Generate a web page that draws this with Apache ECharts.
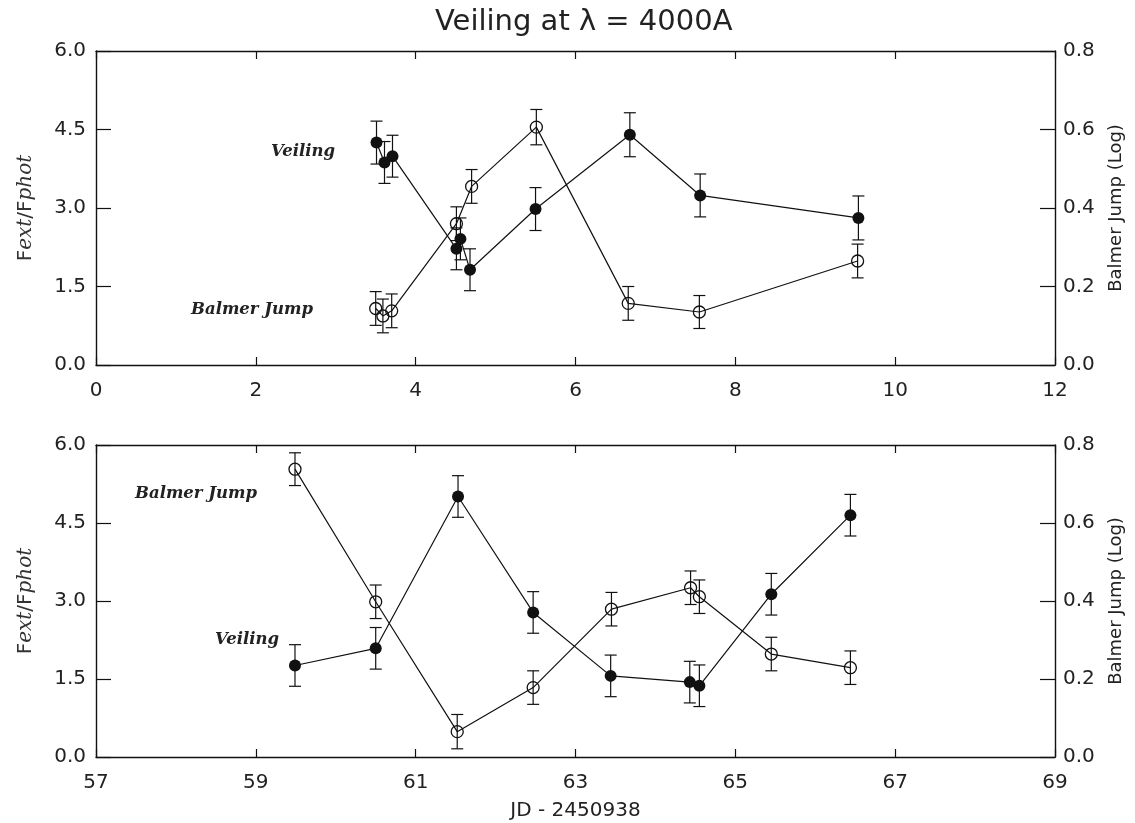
<!DOCTYPE html>
<html>
<head>
<meta charset="utf-8">
<script src="https://cdn.jsdelivr.net/npm/echarts@6/dist/echarts.min.js"></script>
<style>
  html, body { margin: 0; padding: 0; background: #fff; }
  #chart { width: 1135px; height: 823px; }
</style>
</head>
<body>
<div id="chart"></div>
<script>
// ---- Upper panel: JD - 2450938 (early run) ----
const topVeilJD  = [3.51, 3.61, 3.71, 4.51, 4.56, 4.68, 5.50, 6.68, 7.56, 9.54];
const topVeil    = [4.25, 3.87, 3.99, 2.22, 2.41, 1.82, 2.98, 4.40, 3.24, 2.81];
const topVeilErr = [0.41, 0.40, 0.40, 0.40, 0.40, 0.40, 0.41, 0.42, 0.41, 0.42];
const topBJJD    = [3.50, 3.59, 3.70, 4.51, 4.70, 5.51, 6.66, 7.55, 9.53];
const topBJ      = [0.144, 0.125, 0.138, 0.360, 0.455, 0.606, 0.157, 0.135, 0.265];
const topBJErr   = [0.043, 0.043, 0.043, 0.043, 0.043, 0.045, 0.043, 0.042, 0.043];

// ---- Lower panel: JD - 2450938 (later run) ----
const botVeilJD  = [59.49, 60.50, 61.53, 62.47, 63.44, 64.43, 64.55, 65.45, 66.44];
const botVeil    = [1.76, 2.09, 5.01, 2.78, 1.56, 1.44, 1.37, 3.13, 4.65];
const botVeilErr = [0.40, 0.40, 0.40, 0.40, 0.40, 0.40, 0.40, 0.40, 0.40];
const botBJJD    = [59.49, 60.50, 61.52, 62.47, 63.45, 64.44, 64.55, 65.45, 66.44];
const botBJ      = [0.738, 0.398, 0.065, 0.178, 0.379, 0.434, 0.411, 0.264, 0.229];
const botBJErr   = [0.042, 0.043, 0.044, 0.043, 0.043, 0.043, 0.043, 0.043, 0.043];

// Axis ranges and tick steps
const topXRange = [0, 12];
const botXRange = [57, 69];
const xStep = 2;
const fextRange = [0, 6];
const fextStep = 1.5;
const bjRange = [0, 0.8];
const bjStep = 0.2;

const titleText = 'Veiling at \u03bb = 4000A';
const xName = 'JD - 2450938';
const bjName = 'Balmer Jump (Log)';

const INK = '#111';
const SANS = 'DejaVu Sans';
const SERIF = 'DejaVu Serif';

function pairs(xs, ys) { return xs.map((x, i) => [x, ys[i]]); }
function bars(xs, ys, es) { return xs.map((x, i) => [x, ys[i] - es[i], ys[i] + es[i]]); }

// vertical error bar with end caps
function errRender(params, api) {
  const x = api.value(0);
  const lo = api.coord([x, api.value(1)]);
  const hi = api.coord([x, api.value(2)]);
  const cap = 6;
  const st = { stroke: INK, lineWidth: 1.2 };
  return {
    type: 'group',
    children: [
      { type: 'line', shape: { x1: lo[0], y1: lo[1], x2: hi[0], y2: hi[1] }, style: st },
      { type: 'line', shape: { x1: lo[0] - cap, y1: lo[1], x2: lo[0] + cap, y2: lo[1] }, style: st },
      { type: 'line', shape: { x1: hi[0] - cap, y1: hi[1], x2: hi[0] + cap, y2: hi[1] }, style: st }
    ]
  };
}

function xAxes(gi, range, withName) {
  const common = {
    type: 'value', gridIndex: gi, min: range[0], max: range[1], interval: xStep,
    axisLine: { show: true, onZero: false, lineStyle: { color: INK, width: 1.4 } },
    axisTick: { show: true, inside: true, length: 8, lineStyle: { color: INK, width: 1.2 } },
    splitLine: { show: false }
  };
  const bottom = Object.assign({}, common, {
    position: 'bottom',
    axisLabel: { show: true, margin: 16, fontFamily: SANS, fontSize: 20, color: '#222' }
  });
  if (withName) {
    Object.assign(bottom, {
      name: xName, nameLocation: 'middle', nameGap: 44,
      nameTextStyle: { fontFamily: SANS, fontSize: 20, color: '#222' }
    });
  }
  const top = Object.assign({}, common, { position: 'top', axisLabel: { show: false } });
  return [bottom, top];
}

function yAxes(gi) {
  const tick = { show: true, inside: true, length: 15, lineStyle: { color: INK, width: 1.2 } };
  const line = { show: true, onZero: false, lineStyle: { color: INK, width: 1.4 } };
  return [
    {
      type: 'value', gridIndex: gi, position: 'left', min: fextRange[0], max: fextRange[1], interval: fextStep,
      axisLine: line, axisTick: tick, splitLine: { show: false },
      axisLabel: { margin: 10, fontFamily: SANS, fontSize: 20, color: '#222', formatter: v => v.toFixed(1) },
      name: '{s|F}{i|ext}{s|/F}{i|phot}', nameLocation: 'middle', nameGap: 60, nameRotate: 90,
      nameTextStyle: {
        rich: {
          s: { fontFamily: SANS, fontSize: 20, color: '#333' },
          i: { fontFamily: SERIF, fontStyle: 'italic', fontSize: 20, color: '#333' }
        }
      }
    },
    {
      type: 'value', gridIndex: gi, position: 'right', min: bjRange[0], max: bjRange[1], interval: bjStep,
      axisLine: line, axisTick: tick, splitLine: { show: false },
      axisLabel: { margin: 8, fontFamily: SANS, fontSize: 20, color: '#222', formatter: v => v.toFixed(1) },
      name: bjName, nameLocation: 'middle', nameGap: 52, nameRotate: 90,
      nameTextStyle: { fontFamily: SANS, fontSize: 18, color: '#222' }
    }
  ];
}

function panelSeries(xIdx, yLeft, yRight, vx, vy, ve, bx, by, be) {
  return [
    { type: 'custom', xAxisIndex: xIdx, yAxisIndex: yLeft, renderItem: errRender,
      data: bars(vx, vy, ve), encode: { x: 0, y: [1, 2] }, z: 2, silent: true },
    { type: 'custom', xAxisIndex: xIdx, yAxisIndex: yRight, renderItem: errRender,
      data: bars(bx, by, be), encode: { x: 0, y: [1, 2] }, z: 2, silent: true },
    { type: 'line', name: 'Veiling', xAxisIndex: xIdx, yAxisIndex: yLeft, data: pairs(vx, vy),
      symbol: 'circle', symbolSize: 12, showSymbol: true, z: 3,
      lineStyle: { color: INK, width: 1.2 }, itemStyle: { color: INK, borderWidth: 0 } },
    { type: 'line', name: 'Balmer Jump', xAxisIndex: xIdx, yAxisIndex: yRight, data: pairs(bx, by),
      symbol: 'circle', symbolSize: 12, showSymbol: true, z: 3,
      lineStyle: { color: INK, width: 1.2 },
      itemStyle: { color: 'rgba(0,0,0,0)', borderColor: INK, borderWidth: 1.3 } }
  ];
}

// in-panel series annotations
const note = (txt, x, y) => ({
  type: 'text', left: x, top: y,
  style: { text: txt, fontFamily: SERIF, fontStyle: 'italic', fontWeight: 'bold', fontSize: 16.5, fill: '#222' }
});

const chart = echarts.init(document.getElementById('chart'), null, { renderer: 'canvas' });
chart.setOption({
  backgroundColor: '#fff',
  animation: false,
  title: {
    text: titleText, left: 430, top: 3,
    textStyle: { fontFamily: SANS, fontWeight: 'normal', fontSize: 29, color: '#222' }
  },
  grid: [
    { left: 96, right: 80, top: 51, height: 314 },
    { left: 96, right: 80, top: 445, height: 312 }
  ],
  xAxis: [].concat(xAxes(0, topXRange, false), xAxes(1, botXRange, true)),
  yAxis: [].concat(yAxes(0), yAxes(1)),
  series: [].concat(
    panelSeries(0, 0, 1, topVeilJD, topVeil, topVeilErr, topBJJD, topBJ, topBJErr),
    panelSeries(2, 2, 3, botVeilJD, botVeil, botVeilErr, botBJJD, botBJ, botBJErr)
  ),
  graphic: [
    note('Veiling', 271, 143),
    note('Balmer Jump', 191, 301),
    note('Balmer Jump', 135, 485),
    note('Veiling', 215, 631)
  ]
});
</script>
</body>
</html>
